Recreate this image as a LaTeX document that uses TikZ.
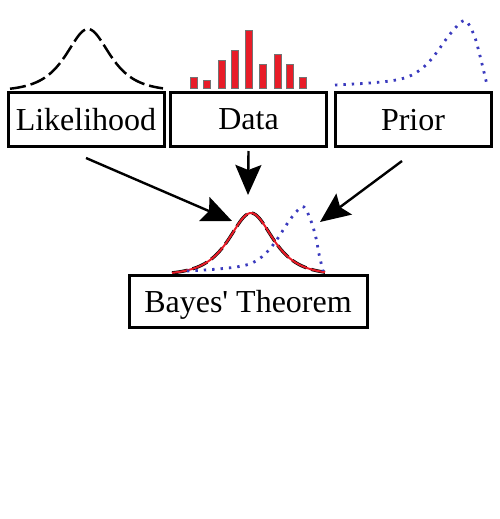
\documentclass[tikz,border=0pt]{standalone}
\usepackage{fontspec}
\setmainfont{Liberation Serif}
\usetikzlibrary{arrows.meta,calc,positioning}
\definecolor{barred}{RGB}{232,28,40}
\definecolor{priorblue}{RGB}{58,58,190}

\begin{document}
\begin{tikzpicture}[x=0.5pt, y=-0.5pt,
  declare function={bump(\d)=62/cosh(\d/19.5);},
  box/.style={draw, line width=1.5pt, minimum width=78pt, minimum height=27pt,
    inner sep=0pt, text depth=0pt, font=\fontsize{16}{19}\selectfont},
  arr/.style={line width=1.2pt, -{Stealth[length=15pt, width=13pt, inset=2.5pt]}},
  likecurve/.style={line width=1.25pt, dash pattern=on 8pt off 2.5pt},
  postcurve/.style={barred, line width=1pt},
  priorcurve/.style={priorblue, line width=1.4pt, dash pattern=on 1.2pt off 3pt},
  databar/.style={fill=barred, draw=black!55, line width=0.3pt}]

\useasboundingbox (0,0) rectangle (499,519);

\node[box] (lik) at (86,119.5)  {Likelihood};
\node[box] (dat) at (248.5,119.5) {Data};
\node[box] (pri) at (413,119.5) {Prior};
\node[box, minimum width=119pt, minimum height=26pt] (bay) at (248,301.5) {Bayes\textquotesingle{} Theorem};

% likelihood curve
\draw[likecurve] plot[domain=10:163, samples=80, smooth] (\x, {91-bump(\x-88)});
% data bars
\foreach \bx/\by in {194/77, 207/80, 222/60, 235/50, 249/30, 263/64, 278/54, 290/64, 303/77}
  \draw[databar] (\bx-3.5,88) rectangle (\bx+3.5,\by);
% prior curve
\draw[priorcurve] plot[smooth, tension=0.6] coordinates {(335,85) (370,83) (396,80) (412,75)
  (426,65) (437,52) (447,38) (458,25) (466,21) (474,35) (479,52) (483,68) (487,85)};

% posterior (dashed + red) and prior copy
\draw[likecurve, line width=1.6pt] plot[domain=172:325, samples=80, smooth] (\x, {275-bump(\x-251)});
\draw[postcurve] plot[domain=172:325, samples=80, smooth] (\x, {275-bump(\x-251)});
\draw[priorcurve] plot[smooth, tension=0.6] coordinates {(187,271) (218,269) (242,266) (256,261)
  (268,251) (278,238) (287,224) (297,211) (304,207) (311,221) (316,238) (319,254) (323,271)};

% arrow tips on the posterior
\coordinate (tipL) at (232,221);
\coordinate (tipM) at (248,195);
\coordinate (tipR) at (320,222);

\draw[arr] ([yshift=-5pt]lik.south) -- (tipL);
\draw[arr] ([yshift=-1.5pt]dat.south) -- (tipM);
\draw[arr] ([xshift=-5.5pt, yshift=-6.5pt]pri.south) -- (tipR);

\end{tikzpicture}
\end{document}
